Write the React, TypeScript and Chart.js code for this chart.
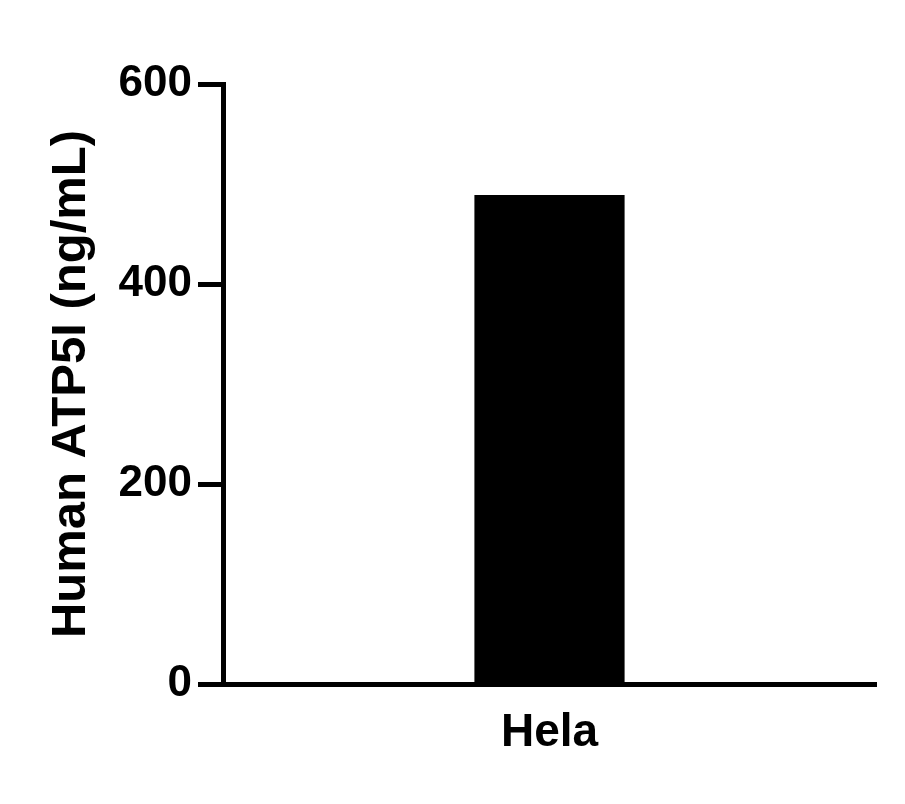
import { Chart, registerables } from 'chart.js';
import { useEffect, useRef } from 'react';

Chart.register(...registerables);

const categories = ['Hela'];
const values = [489];
const yTicks = [0, 200, 400, 600];
const yTitle = 'Human ATP5I (ng/mL)';

const FONT = '"Liberation Sans", Arial, Helvetica, sans-serif';

export default function App() {
   const chartRef = useRef<HTMLCanvasElement>(null);
   const chartInstance = useRef<Chart | null>(null);

   useEffect(() => {
      if (!chartRef.current) return;
      if (chartInstance.current) {
         chartInstance.current.destroy();
      }
      const ctx = chartRef.current.getContext('2d');
      if (!ctx) return;

      chartInstance.current = new Chart(ctx, {
         type: 'bar',
         data: {
            labels: categories,
            datasets: [
               {
                  data: values,
                  backgroundColor: '#000',
                  borderWidth: 0,
                  barPercentage: 0.23,
                  categoryPercentage: 1,
               },
            ],
         },
         options: {
            responsive: true,
            maintainAspectRatio: false,
            animation: false,
            layout: {
               padding: { top: 84, right: 29, bottom: 0, left: 0 },
            },
            plugins: {
               legend: { display: false },
               tooltip: { enabled: false },
            },
            scales: {
               x: {
                  grid: { display: false, drawTicks: false },
                  border: { display: true, color: '#000', width: 5 },
                  ticks: {
                     color: '#000',
                     padding: 22,
                     font: { family: FONT, size: 46, weight: 'bold' },
                  },
                  afterFit: (scale: any) => {
                     scale.height = 120;
                  },
               },
               y: {
                  min: yTicks[0],
                  max: yTicks[yTicks.length - 1],
                  afterBuildTicks: (scale: any) => {
                     scale.ticks = yTicks.map((v) => ({ value: v }));
                  },
                  grid: {
                     display: true,
                     drawOnChartArea: false,
                     drawTicks: true,
                     tickLength: 25,
                     tickWidth: 5,
                     tickColor: '#000',
                  },
                  border: { display: true, color: '#000', width: 5 },
                  ticks: {
                     color: '#000',
                     padding: 6,
                     font: { family: FONT, size: 44, weight: 'bold' },
                  },
                  title: {
                     display: true,
                     text: yTitle,
                     color: '#000',
                     padding: { top: 42, bottom: 0 },
                     font: { family: FONT, size: 49, weight: 'bold' },
                  },
                  afterFit: (scale: any) => {
                     scale.width = 223;
                  },
               },
            },
         },
      });

      return () => {
         if (chartInstance.current) {
            chartInstance.current.destroy();
            chartInstance.current = null;
         }
      };
   }, []);

   return (
      <div style={{ position: 'fixed', left: 0, top: 0, width: 905, height: 804, background: '#fff' }}>
         <canvas ref={chartRef} />
      </div>
   );
}
